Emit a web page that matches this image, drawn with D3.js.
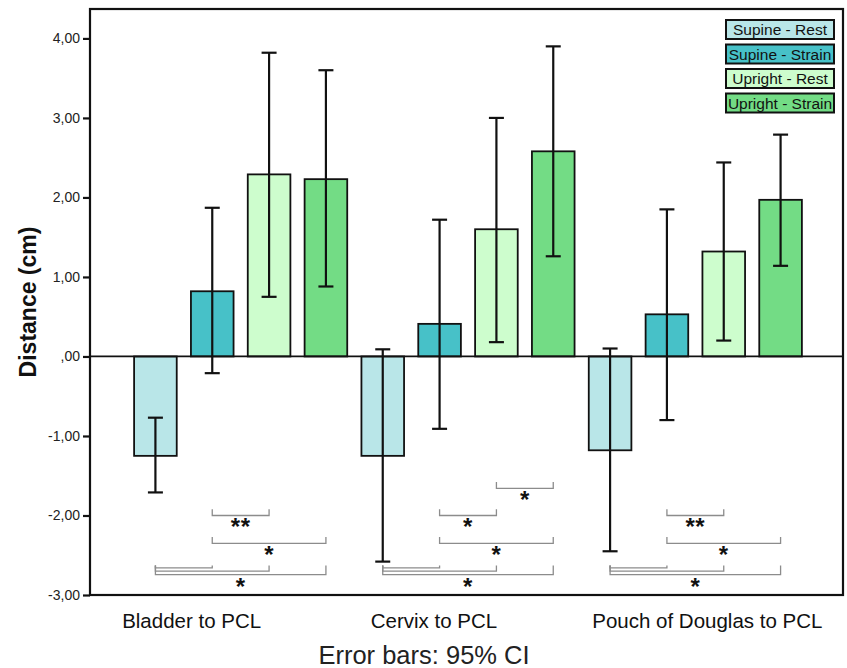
<!DOCTYPE html>
<html>
<head>
<meta charset="utf-8">
<script src="https://cdn.jsdelivr.net/npm/d3@7"></script>
<style>
  body { margin: 0; background: #fff; }
  text { font-family: "Liberation Sans", Arial, sans-serif; }
</style>
</head>
<body>
<svg id="chart" width="847" height="668"></svg>
<script>
// ---------- data ----------
const groups = ["Bladder to PCL", "Cervix to PCL", "Pouch of Douglas to PCL"];
const series = ["Supine - Rest", "Supine - Strain", "Upright - Rest", "Upright - Strain"];
const colors = ["#b9e6e8", "#47c1c8", "#cdfdcd", "#73dc85"];

// mean distance per group (rows) and series (columns)
const means = [
    [-1.25, 0.82, 2.29, 2.23],
    [-1.25, 0.41, 1.60, 2.58],
    [-1.18, 0.53, 1.32, 1.97]
];
// 95% CI bounds
const ciLow = [
    [-1.71, -0.21, 0.75, 0.88],
    [-2.58, -0.91, 0.18, 1.26],
    [-2.45, -0.80, 0.20, 1.14]
];
const ciHigh = [
    [-0.77, 1.87, 3.82, 3.60],
    [0.09, 1.72, 3.00, 3.90],
    [0.10, 1.85, 2.44, 2.79]
];

const yTicks = [4, 3, 2, 1, 0, -1, -2, -3];

// significance brackets: group, from series, to series, level (cm), tick top (cm), label
const brackets = [
    [0, 1, 2, -2.00, -1.92, "**"],
    [0, 1, 3, -2.35, -2.27, "*"],
    [0, 0, 1, -2.66, -2.63, ""],
    [0, 0, 2, -2.70, -2.63, ""],
    [0, 0, 3, -2.745, -2.63, "*"],
    [1, 2, 3, -1.66, -1.58, "*"],
    [1, 1, 2, -2.00, -1.92, "*"],
    [1, 1, 3, -2.35, -2.27, "*"],
    [1, 0, 1, -2.66, -2.63, ""],
    [1, 0, 2, -2.70, -2.63, ""],
    [1, 0, 3, -2.745, -2.63, "*"],
    [2, 1, 2, -2.00, -1.92, "**"],
    [2, 1, 3, -2.35, -2.27, "*"],
    [2, 0, 1, -2.66, -2.63, ""],
    [2, 0, 2, -2.70, -2.63, ""],
    [2, 0, 3, -2.745, -2.63, "*"]
];

// ---------- layout ----------
const margin = {top: 9, right: 4, bottom: 73, left: 90};
const width = 847 - margin.left - margin.right;
const height = 668 - margin.top - margin.bottom;

const svg = d3.select("#chart");
const g = svg.append("g").attr("transform", `translate(${margin.left},${margin.top})`);

const y = d3.scaleLinear().domain([-3, 4.37]).range([height, 0]);
const x0 = d3.scaleBand().domain(groups).range([37, 719]);
const x1 = d3.scaleBand().domain(series).range([0, x0.bandwidth()])
    .paddingInner(0.25).paddingOuter(0.125);
const color = d3.scaleOrdinal().domain(series).range(colors);

const rows = [];
groups.forEach((grp, i) => series.forEach((s, j) => {
    rows.push({grp, s, mean: means[i][j], lo: ciLow[i][j], hi: ciHigh[i][j]});
}));
const cx = (grp, s) => x0(grp) + x1(s) + x1.bandwidth() / 2;

// ---------- bars ----------
g.selectAll("rect.bar")
    .data(rows)
    .enter()
    .append("rect")
    .attr("class", "bar")
    .attr("x", d => x0(d.grp) + x1(d.s))
    .attr("width", x1.bandwidth())
    .attr("y", d => y(Math.max(0, d.mean)))
    .attr("height", d => Math.abs(y(d.mean) - y(0)))
    .attr("fill", d => color(d.s))
    .attr("stroke", "#111")
    .attr("stroke-width", 1.8);

// zero line
g.append("line")
    .attr("x1", 0).attr("x2", width)
    .attr("y1", y(0)).attr("y2", y(0))
    .attr("stroke", "#111").attr("stroke-width", 1.8);

// ---------- error bars ----------
const capW = 7.5;
const err = g.selectAll("g.err").data(rows).enter().append("g")
    .attr("stroke", "#111").attr("stroke-width", 2.2);
err.append("line")
    .attr("x1", d => cx(d.grp, d.s)).attr("x2", d => cx(d.grp, d.s))
    .attr("y1", d => y(d.lo)).attr("y2", d => y(d.hi));
err.append("line")
    .attr("x1", d => cx(d.grp, d.s) - capW).attr("x2", d => cx(d.grp, d.s) + capW)
    .attr("y1", d => y(d.hi)).attr("y2", d => y(d.hi));
err.append("line")
    .attr("x1", d => cx(d.grp, d.s) - capW).attr("x2", d => cx(d.grp, d.s) + capW)
    .attr("y1", d => y(d.lo)).attr("y2", d => y(d.lo));

// ---------- significance brackets ----------
const br = g.selectAll("g.br").data(brackets).enter().append("g");
br.append("path")
    .attr("d", d => {
        const xa = cx(groups[d[0]], series[d[1]]);
        const xb = cx(groups[d[0]], series[d[2]]);
        return `M${xa},${y(d[4])}V${y(d[3])}H${xb}V${y(d[4])}`;
    })
    .attr("fill", "none")
    .attr("stroke", "#8c8c8c")
    .attr("stroke-width", 1.3);
br.filter(d => d[5] !== "")
    .append("text")
    .attr("x", d => (cx(groups[d[0]], series[d[1]]) + cx(groups[d[0]], series[d[2]])) / 2)
    .attr("y", d => y(d[3]) + 20)
    .attr("text-anchor", "middle")
    .attr("font-size", 24)
    .attr("font-weight", "bold")
    .attr("letter-spacing", 0.5)
    .attr("fill", "#111")
    .text(d => d[5]);

// ---------- frame & y axis ----------
g.append("rect")
    .attr("width", width).attr("height", height)
    .attr("fill", "none").attr("stroke", "#111").attr("stroke-width", 2.2);

const locale = d3.formatLocale({decimal: ",", thousands: ".", grouping: [3], currency: ["", ""], minus: "-"});
const fmt = v => locale.format(".2f")(v).replace(/^(-?)0,/, "$1,");

const yAxis = g.append("g")
    .call(d3.axisLeft(y).tickValues(yTicks).tickFormat(fmt).tickSize(7).tickPadding(3));
yAxis.select(".domain").remove();
yAxis.selectAll(".tick line").attr("stroke", "#111").attr("stroke-width", 2.2);
yAxis.selectAll(".tick text")
    .attr("font-size", 14)
    .attr("font-family", "Liberation Sans, Arial, sans-serif")
    .attr("fill", "#222");

svg.append("text")
    .attr("transform", `translate(36,${margin.top + height / 2}) rotate(-90)`)
    .attr("text-anchor", "middle")
    .attr("font-size", 23)
    .attr("font-weight", "bold")
    .attr("fill", "#111")
    .text("Distance (cm)");

// ---------- x labels ----------
const labelShift = [-49, -34, 12];
svg.selectAll("text.xl")
    .data(groups)
    .enter()
    .append("text")
    .attr("class", "xl")
    .attr("x", (d, i) => margin.left + x0(d) + x0.bandwidth() / 2 + labelShift[i])
    .attr("y", 628)
    .attr("text-anchor", "middle")
    .attr("font-size", 20.5)
    .attr("fill", "#111")
    .text(d => d);

svg.append("text")
    .attr("x", 424).attr("y", 664)
    .attr("text-anchor", "middle")
    .attr("font-size", 25.5)
    .attr("fill", "#222")
    .text("Error bars: 95% CI");

// ---------- legend ----------
const legend = svg.append("g").attr("transform", "translate(726,20)");
const li = legend.selectAll("g").data(series).enter().append("g")
    .attr("transform", (d, i) => `translate(0,${i * 24.5})`);
li.append("rect")
    .attr("width", 108).attr("height", 19)
    .attr("fill", d => color(d))
    .attr("stroke", "#111").attr("stroke-width", 2);
li.append("text")
    .attr("x", 54).attr("y", 15)
    .attr("text-anchor", "middle")
    .attr("font-size", 15.5)
    .attr("fill", "#111")
    .text(d => d);
</script>
</body>
</html>
